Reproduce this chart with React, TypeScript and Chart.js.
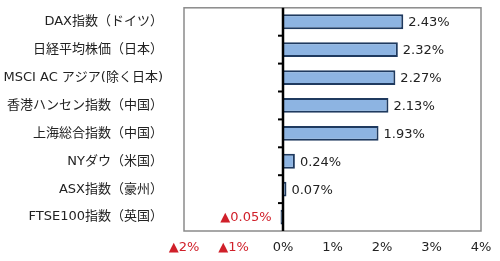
import React, { useEffect, useRef } from "react";
import { Chart, registerables } from "chart.js";

Chart.register(...registerables);

const categories = [
  "DAX指数（ドイツ）",
  "日経平均株価（日本）",
  "MSCI AC アジア(除く日本)",
  "香港ハンセン指数（中国）",
  "上海総合指数（中国）",
  "NYダウ（米国）",
  "ASX指数（豪州）",
  "FTSE100指数（英国）",
];
const values = [2.43, 2.32, 2.27, 2.13, 1.93, 0.24, 0.07, -0.05];
const xMin = -2;
const xMax = 4;
const xStep = 1;

const FONT = "'DejaVu Sans', 'Noto Sans CJK JP', sans-serif";

function fmtPct(v: number, digits: number) {
  const s = Math.abs(v).toFixed(digits) + "%";
  return v < 0 ? "▲" + s : s;
}

const decorPlugin = {
  id: "decor",
  beforeDatasetsDraw(chart: any) {
    const { ctx, chartArea } = chart;
    ctx.save();
    ctx.strokeStyle = "#8a8a8a";
    ctx.lineWidth = 1.5;
    ctx.strokeRect(chartArea.left, chartArea.top, chartArea.right - chartArea.left, chartArea.bottom - chartArea.top);
    ctx.restore();
  },
  afterDatasetsDraw(chart: any) {
    const { ctx, chartArea, scales } = chart;
    const x0 = scales.x.getPixelForValue(0);
    ctx.save();
    ctx.strokeStyle = "#000";
    ctx.lineWidth = 2.5;
    ctx.beginPath();
    ctx.moveTo(x0, chartArea.top);
    ctx.lineTo(x0, chartArea.bottom);
    ctx.stroke();
    ctx.lineWidth = 2;
    for (let i = 0; i < categories.length - 1; i++) {
      const y = (scales.y.getPixelForValue(i) + scales.y.getPixelForValue(i + 1)) / 2;
      ctx.beginPath();
      ctx.moveTo(x0 - 5, y);
      ctx.lineTo(x0, y);
      ctx.stroke();
    }
    // data labels
    const meta = chart.getDatasetMeta(0);
    ctx.font = "13px " + FONT;
    ctx.textBaseline = "middle";
    meta.data.forEach((el: any, i: number) => {
      const v = values[i];
      const label = fmtPct(v, 2);
      if (v >= 0) {
        ctx.fillStyle = "#222";
        ctx.textAlign = "left";
        ctx.fillText(label, el.x + 5, el.y + 1);
      } else {
        ctx.fillStyle = "#d0202a";
        ctx.textAlign = "right";
        ctx.fillText(label, el.x - 9, el.y + 1);
      }
    });
    ctx.restore();
  },
};

export default function App() {
  const ref = useRef<HTMLCanvasElement>(null);
  useEffect(() => {
    document.body.style.margin = "0";
    const chart = new Chart(ref.current!, {
      type: "bar",
      data: {
        labels: categories,
        datasets: [
          {
            data: values,
            backgroundColor: "#8db4e2",
            borderColor: "#1f3a5f",
            borderWidth: 2,
            barPercentage: 0.53,
            categoryPercentage: 1,
          },
        ],
      },
      options: {
        indexAxis: "y",
        responsive: false,
        animation: false,
        layout: { padding: { top: 4, right: 19, left: 0, bottom: 0 } },
        plugins: { legend: { display: false }, tooltip: { enabled: false } },
        scales: {
          x: {
            min: xMin,
            max: xMax,
            grid: { display: false, drawTicks: true, tickLength: 9 },
            border: { display: false },
            afterFit(scale: any) {
              scale.height = 30;
            },
            ticks: {
              stepSize: xStep,
              padding: 0,
              font: { size: 13, family: FONT },
              color: (c: any) => (c.tick && c.tick.value < 0 ? "#d0202a" : "#222"),
              callback: (v: any) => fmtPct(Number(v), 0),
            },
          },
          y: {
            grid: { display: false, drawTicks: true, tickLength: 21 },
            border: { display: false },
            afterFit(scale: any) {
              scale.width = 184;
            },
            ticks: {
              padding: 0,
              font: { size: 13, family: FONT },
              color: "#222",
            },
          },
        },
      },
      plugins: [decorPlugin],
    });
    return () => chart.destroy();
  }, []);
  return <canvas ref={ref} width={500} height={261} style={{ display: "block" }} />;
}
